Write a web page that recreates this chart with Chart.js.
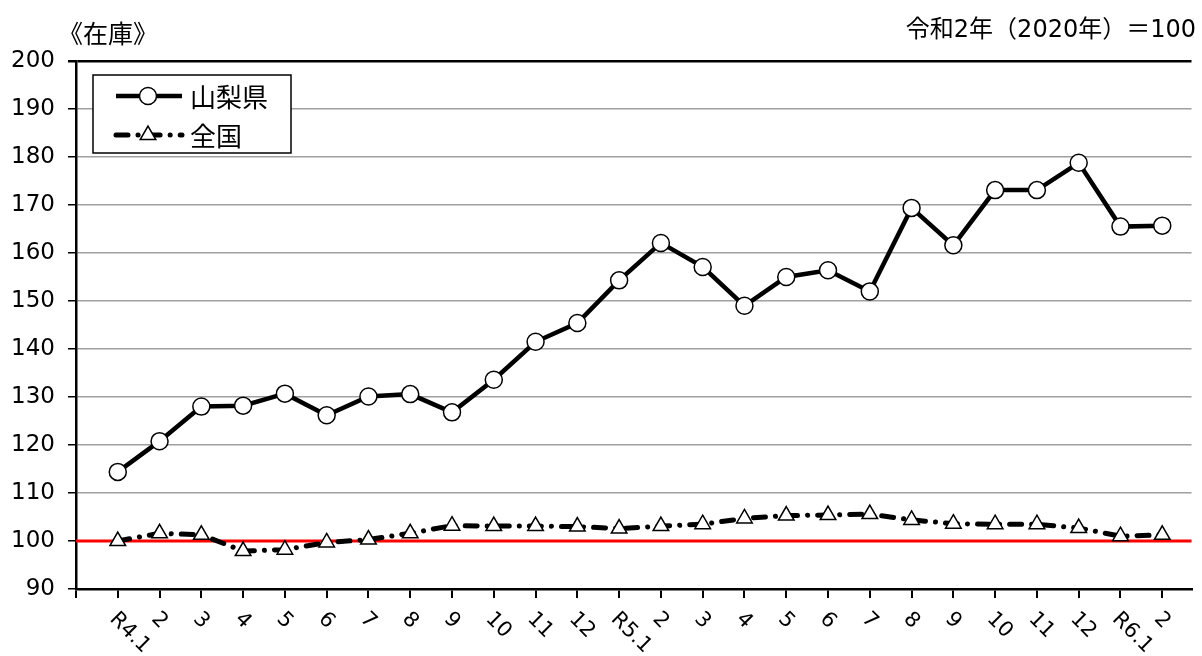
<!DOCTYPE html>
<html>
<head>
<meta charset="utf-8">
<script src="https://cdn.jsdelivr.net/npm/chart.js@4/dist/chart.umd.min.js"></script>
<style>
  html, body { margin: 0; padding: 0; background: #fff; overflow: hidden; }
  #wrap { width: 1202px; height: 656px; }
</style>
</head>
<body>
<div id="wrap"><canvas id="chart" width="1202" height="656"></canvas></div>
<script>
// data (令和2年 = 100)
const monthLabels = ['R4.1','2','3','4','5','6','7','8','9','10','11','12',
                     'R5.1','2','3','4','5','6','7','8','9','10','11','12',
                     'R6.1','2'];
const yamanashi = [114.4, 120.8, 128.0, 128.2, 130.7, 126.2, 130.1, 130.6, 126.8, 133.6, 141.5, 145.4,
                   154.3, 162.1, 157.1, 149.0, 155.0, 156.4, 152.0, 169.4, 161.6, 173.1, 173.1, 178.8,
                   165.5, 165.7];
const national  = [100.0, 101.6, 101.3, 97.9, 98.2, 99.7, 100.3, 101.6, 103.2, 103.1, 103.1, 103.0,
                   102.6, 103.1, 103.5, 104.7, 105.3, 105.4, 105.6, 104.4, 103.6, 103.5, 103.5, 102.7,
                   101.0, 101.3];
const seriesNames = ['山梨県', '全国'];
const baseValue = 100;
const yMin = 90, yMax = 200, yStep = 10;

// DejaVu for the digits, CJK glyphs fall back to Noto
const FONT = "'DejaVu Sans', 'Noto Sans CJK JP', sans-serif";
const CJK = "'Noto Sans CJK JP', sans-serif";

// red reference line at 100
const baseLinePlugin = {
    id: 'baseLine',
    beforeDatasetsDraw(chart) {
        const { ctx, chartArea, scales } = chart;
        const y = scales.y.getPixelForValue(baseValue);
        ctx.save();
        ctx.strokeStyle = '#ff0000';
        ctx.lineWidth = 3;
        ctx.beginPath();
        ctx.moveTo(chartArea.left, y);
        ctx.lineTo(chartArea.right, y);
        ctx.stroke();
        ctx.restore();
    }
};

// titles, rotated month labels and the boxed legend
const extrasPlugin = {
    id: 'extras',
    afterDraw(chart) {
        const { ctx, chartArea, scales } = chart;
        ctx.save();
        ctx.fillStyle = '#000';

        // titles
        ctx.font = '25px ' + CJK;
        ctx.textBaseline = 'middle';
        ctx.textAlign = 'left';
        ctx.fillText('《在庫》', 58, 33);
        ctx.font = '24px ' + FONT;
        ctx.textAlign = 'right';
        ctx.fillText('令和2年（2020年）＝100', 1196, 31);

        // x labels, turned 45 degrees clockwise
        ctx.font = '21px ' + FONT;
        ctx.textAlign = 'left';
        monthLabels.forEach((lab, i) => {
            const x = scales.x.getPixelForValue(i + 1);
            ctx.save();
            ctx.translate(x - 5, chartArea.bottom + 27);
            ctx.rotate(Math.PI / 4);
            ctx.fillText(lab, 0, 0);
            ctx.restore();
        });

        // legend
        const bx = 93, by = 75, bw = 198, bh = 78;
        ctx.fillStyle = '#fff';
        ctx.fillRect(bx, by, bw, bh);
        ctx.strokeStyle = '#000';
        ctx.lineWidth = 1.5;
        ctx.strokeRect(bx, by, bw, bh);
        const rows = [96, 135];
        chart.data.datasets.forEach((ds, i) => {
            const y = rows[i];
            ctx.save();
            ctx.strokeStyle = ds.borderColor;
            ctx.lineWidth = ds.borderWidth;
            ctx.lineCap = ds.borderCapStyle || 'butt';
            ctx.setLineDash(ds.borderDash || []);
            ctx.beginPath();
            ctx.moveTo(116, y);
            ctx.lineTo(182, y);
            ctx.stroke();
            ctx.restore();
            ctx.save();
            ctx.fillStyle = ds.pointBackgroundColor;
            ctx.strokeStyle = ds.pointBorderColor;
            ctx.lineWidth = ds.pointBorderWidth;
            Chart.helpers.drawPoint(ctx, { pointStyle: ds.pointStyle, radius: ds.pointRadius, borderWidth: ds.pointBorderWidth, rotation: 0 }, 148, y);
            ctx.restore();
            ctx.fillStyle = '#000';
            ctx.font = '26px ' + CJK;
            ctx.textAlign = 'left';
            ctx.textBaseline = 'middle';
            ctx.fillText(ds.label, 190, y + 1);
        });
        ctx.restore();
    }
};

const ctx = document.getElementById('chart').getContext('2d');
new Chart(ctx, {
    type: 'line',
    data: {
        datasets: [{
            label: seriesNames[0],
            data: yamanashi.map((v, i) => ({ x: i + 1, y: v })),
            borderColor: '#000',
            borderWidth: 4.5,
            pointStyle: 'circle',
            pointRadius: 8.5,
            pointBackgroundColor: '#fff',
            pointBorderColor: '#000',
            pointBorderWidth: 1.5,
            tension: 0
        }, {
            label: seriesNames[1],
            data: national.map((v, i) => ({ x: i + 1, y: v })),
            borderColor: '#000',
            borderWidth: 5,
            borderDash: [12, 10, 0.1, 10],
            borderCapStyle: 'round',
            pointStyle: 'triangle',
            pointRadius: 9,
            pointBackgroundColor: '#fff',
            pointBorderColor: '#000',
            pointBorderWidth: 1.5,
            tension: 0
        }]
    },
    options: {
        responsive: false,
        animation: false,
        layout: { padding: { top: 61, left: 0, right: 0, bottom: 0 } },
        plugins: {
            legend: { display: false },
            tooltip: { enabled: false }
        },
        scales: {
            x: {
                type: 'linear',
                min: 0,
                max: 26.7,
                afterBuildTicks: s => { s.ticks = [0].concat(monthLabels.map((l, i) => i + 1)).map(v => ({ value: v })); },
                afterFit: s => { s.height = 67; },
                ticks: { display: false },
                grid: { drawOnChartArea: false, drawTicks: true, tickLength: 9, tickColor: '#000', lineWidth: 2 },
                border: { color: '#000', width: 2.5 }
            },
            y: {
                min: yMin,
                max: yMax,
                afterFit: s => { s.width = 76; },
                ticks: {
                    stepSize: yStep,
                    color: '#000',
                    padding: 13,
                    font: { family: FONT, size: 23 }
                },
                grid: {
                    color: c => c.tick && c.tick.value === yMax ? '#000' : '#a0a0a0',
                    lineWidth: c => c.tick && c.tick.value === yMax ? 2.5 : 1.5,
                    tickColor: '#000',
                    tickLength: 8
                },
                border: { color: '#000', width: 2.5 }
            }
        }
    },
    plugins: [baseLinePlugin, extrasPlugin]
});
</script>
</body>
</html>
